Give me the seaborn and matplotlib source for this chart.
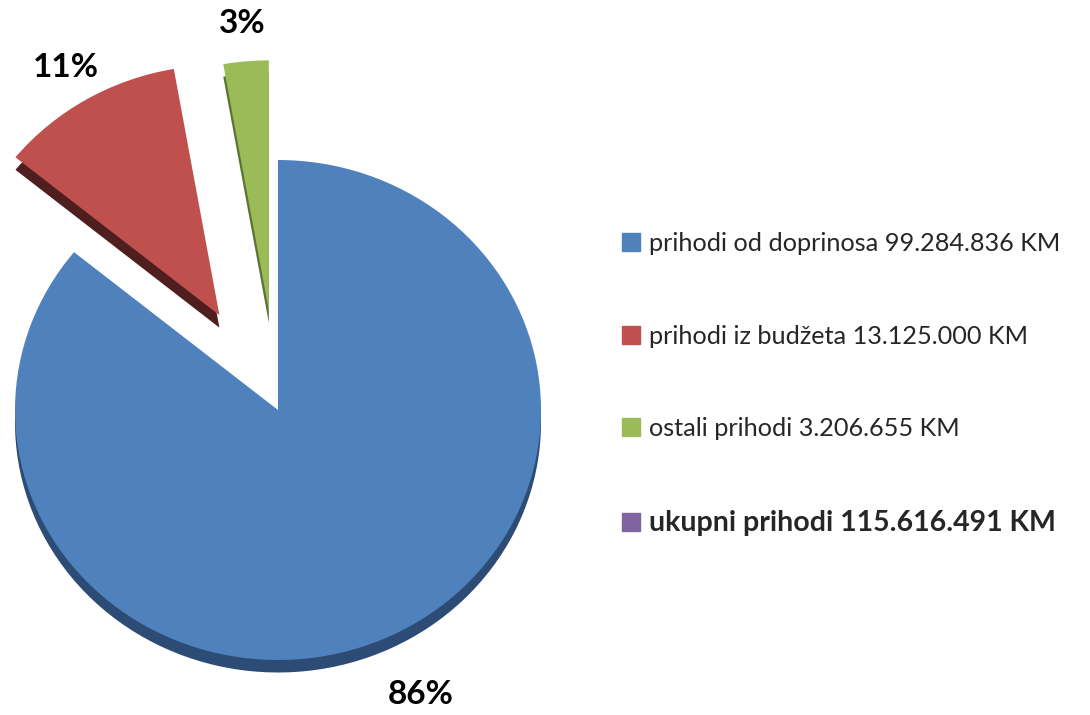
import numpy as np
import matplotlib
matplotlib.use("Agg")
import matplotlib.pyplot as plt
import matplotlib.patches as mpatches
import seaborn as sns

# podaci o prihodima (KM)
labels = ["prihodi od doprinosa 99.284.836 KM",
          "prihodi iz budžeta 13.125.000 KM",
          "ostali prihodi 3.206.655 KM"]
values = [99284836, 13125000, 3206655]
total_label = "ukupni prihodi 115.616.491 KM"

colors = ["#4F81BD", "#C0504D", "#9BBB59"]
dark_colors = ["#2C4C75", "#4E1F1E", "#5D7534"]
total_color = "#8064A2"
explode = [0, 0.44, 0.40]
label_dist = [1.26, 1.15, 1.15]

sns.set_theme(style="white")
plt.rcParams["font.family"] = ["Lato", "DejaVu Sans"]

fig = plt.figure(figsize=(10.9, 7.15), dpi=100)
ax = fig.add_axes([-11.3 / 1090, 5 / 715, 578.6 / 1090, 700 / 715])

# "3D" dubina - tamnija kopija pomaknuta prema dolje
ax.pie(values, colors=dark_colors, explode=explode, startangle=90,
       counterclock=False, center=(0, -0.05), wedgeprops=dict(linewidth=0))
wedges, _ = ax.pie(values, colors=colors, explode=explode, startangle=90,
                   counterclock=False, wedgeprops=dict(linewidth=0))
ax.set_aspect("auto")
ax.set_xlim(-1.1, 1.1)
ax.set_ylim(-1.2, 1.6)

total = sum(values)
for w, v, d in zip(wedges, values, label_dist):
    mid = np.deg2rad((w.theta1 + w.theta2) / 2)
    cx, cy = w.center
    ax.text(cx + d * w.r * np.cos(mid), cy + d * w.r * np.sin(mid),
            f"{100 * v / total:.0f}%", ha="center", va="center",
            fontsize=24, fontweight="bold", color="black")

handles = [mpatches.Patch(color=c) for c in colors] + [mpatches.Patch(color=total_color)]
leg = fig.legend(handles, labels + [total_label], loc="center left",
                 bbox_to_anchor=(622 / 1090, 0.463), frameon=False,
                 borderpad=0, borderaxespad=0, fontsize=18.2,
                 handlelength=0.72, handleheight=0.72, handletextpad=0.33,
                 labelspacing=2.75)
leg.get_texts()[-1].set_fontweight("bold")
leg.get_texts()[-1].set_fontsize(20.5)

fig.savefig("out.png", dpi=100)
